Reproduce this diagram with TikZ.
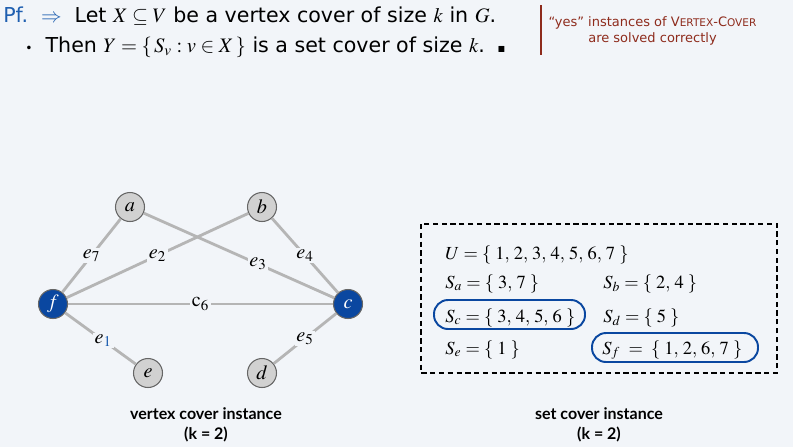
\documentclass[tikz,border=0pt]{standalone}
\usepackage{mathptmx}
\usepackage{amssymb}
\usepackage[no-math]{fontspec}
\setmainfont{DejaVu Sans}
\newfontfamily\capfont{Lato}
\definecolor{bg}{HTML}{F2F5F9}
\definecolor{pfblue}{HTML}{1F5FB0}
\definecolor{nodeblue}{HTML}{0A47A0}
\definecolor{edgegray}{HTML}{B5B5B5}
\definecolor{notered}{HTML}{8E2B1C}
\begin{document}
\begin{tikzpicture}[
  vtx/.style={circle,draw=black!60,fill=black!18,minimum size=0.58cm,inner sep=0pt,line width=0.6pt,font=\fontsize{11.5}{12}\selectfont},
  cvtx/.style={vtx,fill=nodeblue,text=white},
  edge/.style={draw=edgegray,line width=1.6pt},
  elab/.style={fill=bg,inner sep=1pt,font=\fontsize{11.5}{12}\selectfont},
  cover/.style={draw=nodeblue,line width=1.1pt,rounded corners=0.28cm},
  settxt/.style={anchor=base west,inner sep=0pt,font=\fontsize{10.5}{12}\selectfont},
  hdtxt/.style={anchor=base west,inner sep=0pt,font=\fontsize{11.7}{14}\selectfont},
  captxt/.style={font=\capfont\bfseries\fontsize{9.1}{11.5}\selectfont,align=center}]
\fill[bg] (0,0) rectangle (15.86,-8.94);
\useasboundingbox (0,0) rectangle (15.86,-8.94);
\node[hdtxt] (pf) at (0.06,-0.44) {\textcolor{pfblue}{Pf.\ \ $\Rightarrow$}\ \ Let $X\subseteq V$ be a vertex cover of size $k$ in $G$.};
\node[hdtxt] (then) at (0.5,-1.04) {{\scriptsize\textbullet}\ \ Then $Y=\{\,S_v : v\in X\,\}$ is a set cover of size $k$.\ \ {\tiny$\blacksquare$}};
\draw[notered,line width=1pt] (10.82,-0.1) -- (10.82,-1.1);
\node[text=notered,font=\fontsize{7.4}{9.5}\selectfont,align=center,anchor=north] (note) at (13.05,-0.2) {“yes” instances of V{\fontsize{6}{8}\selectfont ERTEX}-C{\fontsize{6}{8}\selectfont OVER}\\are solved correctly};
\node[vtx] (a) at (2.6,-4.14) {$a$};
\node[vtx] (b) at (5.24,-4.14) {$b$};
\node[cvtx] (f) at (1.06,-6.08) {$f$};
\node[cvtx] (c) at (6.96,-6.08) {$c$};
\node[vtx] (e) at (2.96,-7.46) {$e$};
\node[vtx] (d) at (5.24,-7.46) {$d$};
\draw[edge] (f) -- node[elab] {$e_7$} (a);
\draw[edge] (f) -- node[elab] {$e_2$} (b);
\draw[edge] (a) -- node[elab,pos=0.6] {$e_3$} (c);
\draw[edge] (b) -- node[elab] {$e_4$} (c);
\draw[edge] (f) -- node[elab] {$\mathrm{c}_6$} (c);
\draw[edge] (f) -- node[elab,pos=0.54] {$e_{\textcolor{pfblue}{1}}$} (e);
\draw[edge] (c) -- node[elab] {$e_5$} (d);
\draw[densely dashed,line width=0.7pt] (8.42,-4.48) rectangle (15.54,-7.46);
\node[settxt] (U) at (8.9,-5.18) {$U=\{\;1,\,2,\,3,\,4,\,5,\,6,\,7\;\}$};
\node[settxt] (Sa) at (8.9,-5.76) {$S_a=\{\;3,\,7\;\}$};
\node[settxt] (Sb) at (12.06,-5.76) {$S_b=\{\;2,\,4\;\}$};
\node[settxt] (Sc) at (8.9,-6.44) {$S_c=\{\;3,\,4,\,5,\,6\;\}$};
\node[settxt] (Sd) at (12.06,-6.44) {$S_d=\{\;5\;\}$};
\node[settxt] (Se) at (8.9,-7.08) {$S_e=\{\;1\;\}$};
\node[settxt] (Sf) at (12.04,-7.08) {$S_f\;=\;\{\;1,\,2,\,6,\,7\;\}$};
\draw[cover] (8.68,-6.0) rectangle (11.7,-6.58);
\draw[cover] (11.84,-6.66) rectangle (15.16,-7.24);
\node[captxt] (vcap) at (4.12,-8.5) {vertex cover instance\\(k = 2)};
\node[captxt] (scap) at (11.98,-8.5) {set cover instance\\(k = 2)};
\end{tikzpicture}
\end{document}
